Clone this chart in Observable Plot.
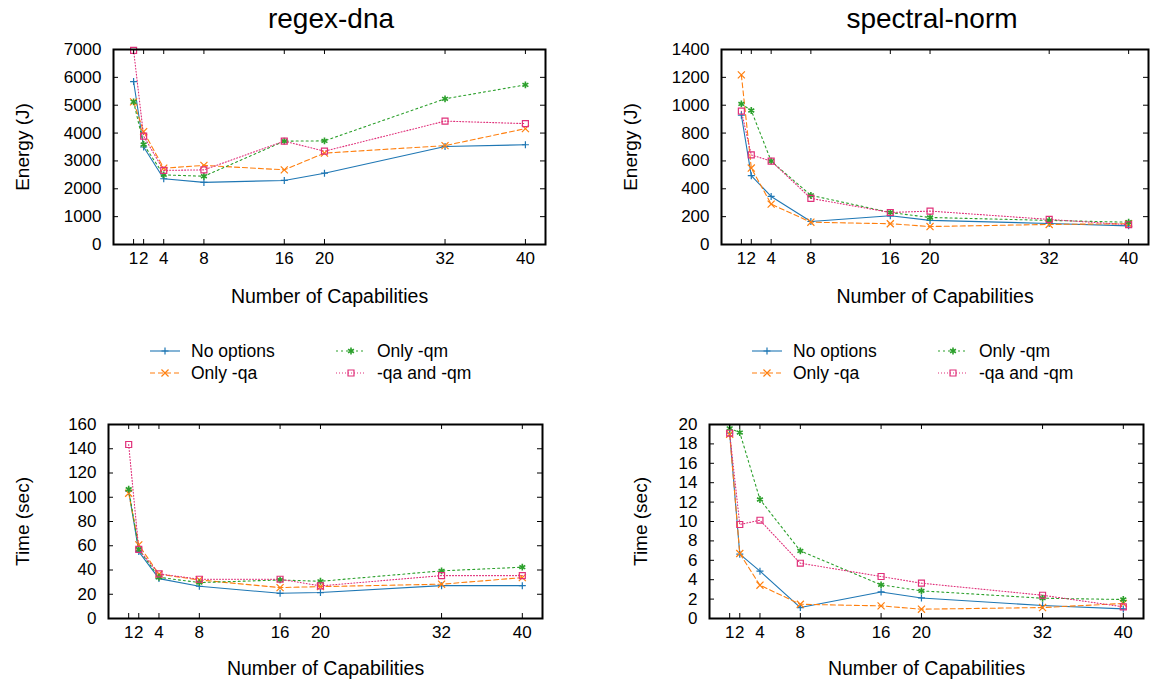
<!DOCTYPE html>
<html><head><meta charset="utf-8">
<script src="https://cdn.jsdelivr.net/npm/d3@7"></script>
<script src="https://cdn.jsdelivr.net/npm/@observablehq/plot@0.6"></script>
<style>
body{margin:0;background:#fff;font-family:"Liberation Sans",Arial,Helvetica,sans-serif;}
#root{position:relative;width:1153px;height:682px;overflow:hidden;background:#fff;}
.panel{position:absolute;}
.title{position:absolute;font-size:28px;line-height:28px;transform:translateX(-50%);white-space:nowrap;color:#000;}
.lg{position:absolute;font-size:17.5px;line-height:18px;white-space:nowrap;color:#000;}
.lgs{position:absolute;}
</style></head><body><div id="root"></div><script>
// ---------------- data ----------------
const caps = [1, 2, 4, 8, 16, 20, 32, 40];
const series = ["No options", "Only -qa", "Only -qm", "-qa and -qm"];
const colors = ["#1f77b4", "#ff7f0e", "#2ca02c", "#e0307a"];
const symbols = ["plus", "times", "asterisk", "square2"];
const dashes = [null, "5,3", "2,3", "1,2"];
const titles = ["regex-dna", "spectral-norm"];

// regex-dna, Energy (J)
const regexEnergyNoOptions = [5850, 3500, 2360, 2230, 2300, 2560, 3520, 3580];
const regexEnergyOnlyQa    = [5120, 4050, 2740, 2840, 2680, 3280, 3550, 4160];
const regexEnergyOnlyQm    = [5120, 3590, 2500, 2450, 3710, 3720, 5230, 5730];
const regexEnergyQaQm      = [6970, 3890, 2660, 2680, 3710, 3350, 4430, 4340];
// spectral-norm, Energy (J)
const specEnergyNoOptions = [928, 494, 345, 165, 206, 173, 151, 134];
const specEnergyOnlyQa    = [1218, 549, 290, 160, 149, 129, 144, 149];
const specEnergyOnlyQm    = [1009, 962, 599, 353, 230, 194, 173, 160];
const specEnergyQaQm      = [957, 643, 599, 331, 230, 240, 180, 142];
// regex-dna, Time (sec)
const regexTimeNoOptions = [105, 55.2, 32.9, 26.6, 20.8, 21.4, 27.1, 27.1];
const regexTimeOnlyQa    = [103.3, 60.7, 36.5, 31.8, 25.5, 26.3, 28.3, 33.7];
const regexTimeOnlyQm    = [106.6, 57.1, 34, 29.6, 31.8, 30.7, 39.3, 42.3];
const regexTimeQaQm      = [143.5, 57, 36.8, 32.4, 32.4, 26.9, 35.4, 35.4];
// spectral-norm, Time (sec)
const specTimeNoOptions = [19.1, 6.63, 4.88, 1.13, 2.74, 2.12, 1.34, 0.99];
const specTimeOnlyQa    = [19.0, 6.7, 3.43, 1.47, 1.3, 0.96, 1.13, 1.55];
const specTimeOnlyQm    = [19.6, 19.17, 12.27, 6.97, 3.47, 2.85, 2.09, 1.96];
const specTimeQaQm      = [19.1, 9.69, 10.13, 5.7, 4.33, 3.64, 2.4, 1.2];

// tick labels
const regexEnergyTicks = [0, 1000, 2000, 3000, 4000, 5000, 6000, 7000];
const specEnergyTicks = [0, 200, 400, 600, 800, 1000, 1200, 1400];
const regexTimeTicks = [0, 20, 40, 60, 80, 100, 120, 140, 160];
const specTimeTicks = [0, 2, 4, 6, 8, 10, 12, 14, 16, 18, 20];

// ---------------- drawing ----------------
const root = document.getElementById("root");
const FONT = "'Liberation Sans', Arial, Helvetica, sans-serif";
const symSize = {plus: 2.4, times: 3.3, asterisk: 3.2, square2: 3.8};

function makePanel(cfg) {
  const {left, top, width, height, ml, mr, mt, mb} = cfg;
  const fw = width - ml - mr, fh = height - mt - mb;
  const marks = [];
  cfg.values.forEach((vals, si) => {
    const d = vals.map((v, i) => ({x: caps[i], y: v}));
    marks.push(Plot.line(d, {x: "x", y: "y", stroke: colors[si], strokeWidth: 1.1, strokeDasharray: dashes[si]}));
  });
  cfg.values.forEach((vals, si) => {
    const d = vals.map((v, i) => ({x: caps[i], y: v}));
    marks.push(Plot.dot(d, {x: "x", y: "y", symbol: symbols[si], r: symSize[symbols[si]], stroke: colors[si], fill: "none", strokeWidth: si === 2 ? 1.6 : 1.2}));
  });
  marks.push(
    Plot.tickX(caps, {x: d => d, insetTop: fh - 5, stroke: "#000"}),
    Plot.tickX(caps, {x: d => d, insetBottom: fh - 5, stroke: "#000"}),
    Plot.tickY(cfg.yTicks, {y: d => d, insetRight: fw - 5, stroke: "#000"}),
    Plot.tickY(cfg.yTicks, {y: d => d, insetLeft: fw - 5, stroke: "#000"}),
    Plot.frame({stroke: "#000", strokeWidth: 2}),
    Plot.axisX(caps, {tickSize: 0, tickPadding: 7, tickFormat: d => String(d), label: null, fontSize: 17}),
    Plot.axisY(cfg.yTicks, {tickSize: 0, tickPadding: 12, tickFormat: d => String(d), label: null, fontSize: 17}),
    Plot.text([cfg.xLabel], {frameAnchor: "bottom", dy: cfg.xLabelDy, lineAnchor: "bottom", textAnchor: "middle", fontSize: 19.5}),
    Plot.text([cfg.yLabel], {frameAnchor: "left", dx: -cfg.yLabelDx, rotate: -90, textAnchor: "middle", lineAnchor: "middle", fontSize: 19})
  );
  const plot = Plot.plot({
    width, height,
    marginLeft: ml, marginRight: mr, marginTop: mt, marginBottom: mb,
    x: {domain: [-1, 42], axis: null},
    y: {domain: [0, cfg.yMax], axis: null},
    style: {fontFamily: FONT, fontSize: "17px", background: "transparent", color: "#000"},
    marks
  });
  const div = document.createElement("div");
  div.className = "panel";
  div.style.left = left + "px";
  div.style.top = top + "px";
  div.appendChild(plot);
  root.appendChild(div);
}

makePanel({left: 0, top: 0, width: 576, height: 320, ml: 113, mr: 31, mt: 49, mb: 76,
  values: [regexEnergyNoOptions, regexEnergyOnlyQa, regexEnergyOnlyQm, regexEnergyQaQm],
  yTicks: regexEnergyTicks, yMax: 7000, xLabel: "Number of Capabilities", yLabel: "Energy (J)", xLabelDy: 58, yLabelDx: 91});
makePanel({left: 576, top: 0, width: 577, height: 320, ml: 145, mr: 5, mt: 49, mb: 76,
  values: [specEnergyNoOptions, specEnergyOnlyQa, specEnergyOnlyQm, specEnergyQaQm],
  yTicks: specEnergyTicks, yMax: 1400, xLabel: "Number of Capabilities", yLabel: "Energy (J)", xLabelDy: 58, yLabelDx: 91});
makePanel({left: 0, top: 380, width: 576, height: 302, ml: 108, mr: 34, mt: 44, mb: 64,
  values: [regexTimeNoOptions, regexTimeOnlyQa, regexTimeOnlyQm, regexTimeQaQm],
  yTicks: regexTimeTicks, yMax: 160, xLabel: "Number of Capabilities", yLabel: "Time (sec)", xLabelDy: 56, yLabelDx: 86});
makePanel({left: 576, top: 380, width: 577, height: 302, ml: 133, mr: 10, mt: 44, mb: 64,
  values: [specTimeNoOptions, specTimeOnlyQa, specTimeOnlyQm, specTimeQaQm],
  yTicks: specTimeTicks, yMax: 20, xLabel: "Number of Capabilities", yLabel: "Time (sec)", xLabelDy: 56, yLabelDx: 69});

// titles
[[titles[0], 331], [titles[1], 932]].forEach(([t, cx]) => {
  const el = document.createElement("div");
  el.className = "title";
  el.textContent = t;
  el.style.left = cx + "px";
  el.style.top = "5px";
  root.appendChild(el);
});

// legends
function legend(x0, x1, y0, y1) {
  const pos = [[x0, y0], [x0, y1], [x1, y0], [x1, y1]];
  series.forEach((s, si) => {
    const [lx, ly] = pos[si];
    const svg = d3.create("svg").attr("class", "lgs").attr("width", 32).attr("height", 12)
      .style("left", lx + "px").style("top", (ly - 6) + "px");
    svg.append("line").attr("x1", 1).attr("x2", 31).attr("y1", 6).attr("y2", 6)
      .attr("stroke", colors[si]).attr("stroke-width", 1.1).attr("stroke-dasharray", dashes[si]);
    const rr = symSize[symbols[si]];
    const symMap = {plus: d3.symbolPlus, times: d3.symbolTimes, asterisk: d3.symbolAsterisk, square2: d3.symbolSquare2};
    svg.append("path").attr("transform", "translate(16,6)")
      .attr("d", d3.symbol(symMap[symbols[si]], Math.PI * rr * rr)())
      .attr("fill", "none").attr("stroke", colors[si]).attr("stroke-width", si === 2 ? 1.6 : 1.2);
    root.appendChild(svg.node());
    const t = document.createElement("div");
    t.className = "lg";
    t.textContent = s;
    t.style.left = (lx + 42) + "px";
    t.style.top = (ly - 9) + "px";
    root.appendChild(t);
  });
}
legend(149, 335, 351, 373);
legend(751, 937, 351, 373);
</script></body></html>
